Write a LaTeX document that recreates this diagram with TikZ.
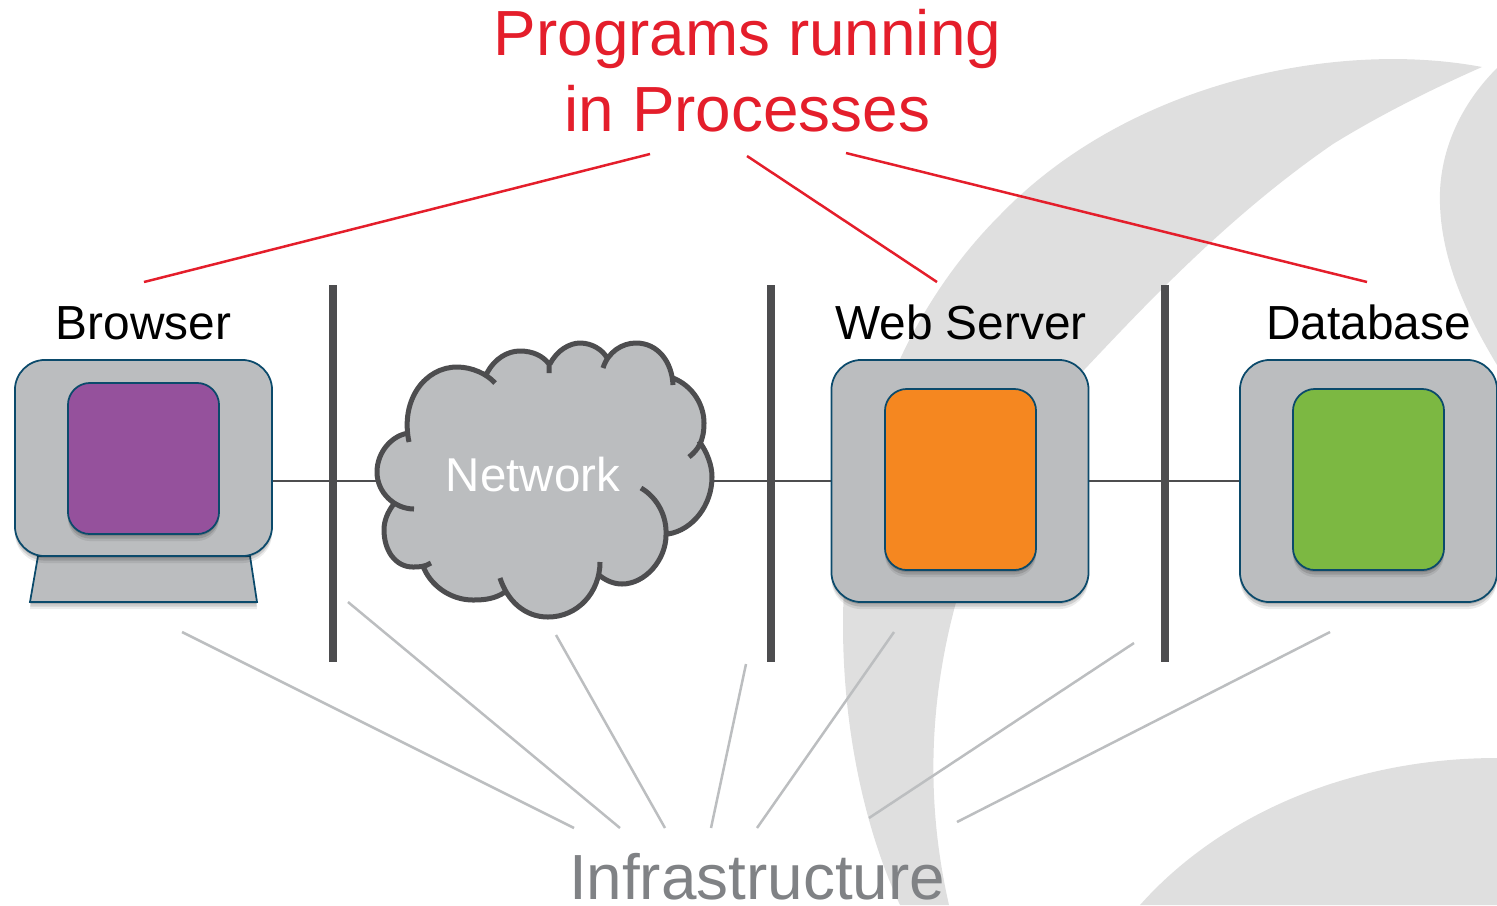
\documentclass[tikz,border=0pt]{standalone}
\usepackage{fontspec}
\setmainfont{Liberation Sans}
\usepackage{xcolor}
\usetikzlibrary{shadows,positioning,backgrounds}

\definecolor{swoosh}{HTML}{DFDFDF}
\definecolor{boxgrey}{HTML}{BBBDBF}
\definecolor{boxedge}{HTML}{0B4A6B}
\definecolor{walldark}{HTML}{4D4D4F}
\definecolor{titlered}{HTML}{E41E2B}
\definecolor{infragrey}{HTML}{808285}
\definecolor{infraline}{HTML}{BCBEC0}
\definecolor{browserfill}{HTML}{95519C}
\definecolor{serverfill}{HTML}{F58720}
\definecolor{dbfill}{HTML}{7CB842}

\begin{document}
\begin{tikzpicture}[
    x=0.01cm, y=-0.01cm,
    softshadow/.style={
        drop shadow={shadow xshift=0pt, shadow yshift=-0.02cm, opacity=0.14, fill=black},
        drop shadow={shadow xshift=0pt, shadow yshift=-0.045cm, opacity=0.12, fill=black},
        drop shadow={shadow xshift=0pt, shadow yshift=-0.07cm, opacity=0.08, fill=black}},
    tier/.style={rectangle, draw=boxedge, fill=boxgrey, line width=0.175mm, rounded corners=0.3cm, inner sep=0pt, minimum width=2.57cm, softshadow},
    proc/.style={rectangle, draw=boxedge, line width=0.175mm, rounded corners=0.22cm, inner sep=0pt, minimum width=1.51cm, softshadow},
    tierlabel/.style={font=\fontsize{13.6}{16}\selectfont, text=black, inner sep=0pt},
    wall/.style={rectangle, fill=walldark, inner sep=0pt, minimum width=0.08cm, minimum height=3.77cm},
    link/.style={draw=walldark, line width=0.025cm},
    redline/.style={draw=titlered, line width=0.025cm},
    infrastructureline/.style={draw=infraline, line width=0.025cm}
]
\useasboundingbox (0,0) rectangle (1497,905);

% background swooshes
\fill[swoosh] (1482,67) .. controls (1340,40) and (1130,80) .. (1000,215)
    .. controls (890,325) and (843,480) .. (843,625)
    .. controls (843,730) and (865,830) .. (900,905) -- (949,905)
    .. controls (925,800) and (930,700) .. (955,606)
    .. controls (985,500) and (1030,430) .. (1084,370)
    .. controls (1150,300) and (1230,215) .. (1333,144)
    .. controls (1380,115) and (1430,90) .. cycle;
\fill[swoosh] (1497,68) .. controls (1455,110) and (1438,160) .. (1440,205)
    .. controls (1442,265) and (1470,320) .. (1497,365) -- cycle;
\fill[swoosh] (1140,905) .. controls (1220,815) and (1350,758) .. (1497,758) -- (1497,905) -- cycle;

\node[minimum width=3.35cm, minimum height=2.7cm, inner sep=0pt] (net) at (544.5,481) {};

\node[wall] (wallA) at (333,473.5) {};
\node[wall] (wallB) at (771,473.5) {};
\node[wall] (wallC) at (1164.5,473.5) {};

% stand under the browser screen
\draw[draw=boxedge, fill=boxgrey, line width=0.175mm, softshadow] (38,556) -- (250,556) -- (257,602) -- (30,602) -- cycle;

\node[tier, minimum height=1.96cm] (browser) at (143.5,458) {};
\node[proc, minimum height=1.51cm, fill=browserfill] (browserproc) at (143.5,458.5) {};
\node[tier, minimum height=2.42cm] (server) at (960,481) {};
\node[proc, minimum height=1.81cm, fill=serverfill] (serverproc) at (960.5,479.5) {};
\node[tier, minimum height=2.42cm] (db) at (1368.5,481) {};
\node[proc, minimum height=1.81cm, fill=dbfill] (dbproc) at (1368.5,479.5) {};

\begin{scope}[on background layer]
\draw[link] (browser.east |- net.west) -- (net.west);
\draw[link] (net.east) -- (server.west);
\draw[link] (server.east) -- (db.west);
\end{scope}

% the cloud
\fill[boxgrey] (409,442) .. controls (400,400) and (425,367) .. (457,367) .. controls (472,367) and (487,374) .. (495,383)
    -- (487,373) .. controls (495,358) and (508,351) .. (520,351) .. controls (533,351) and (545,357) .. (550,364)
    .. controls (557,350) and (570,343) .. (580,343) .. controls (592,343) and (603,350) .. (607,358)
    -- (603,368) .. controls (608,352) and (622,343) .. (636,343) .. controls (658,343) and (672,362) .. (673,378)
    .. controls (693,386) and (704,405) .. (704,423) .. controls (704,430) and (702,436) .. (699,441)
    .. controls (707,452) and (712,465) .. (712,477) .. controls (712,505) and (693,530) .. (668,534)
    .. controls (666,560) and (645,584) .. (622,584) .. controls (613,584) and (605,580) .. (600,575)
    .. controls (592,600) and (578,617) .. (548,617) .. controls (530,617) and (515,607) .. (505,592)
    .. controls (495,599) and (484,600) .. (473,600) .. controls (450,600) and (430,585) .. (423,566)
    .. controls (418,567) and (415,567) .. (413,567) .. controls (395,567) and (384,550) .. (384,530)
    .. controls (384,520) and (388,512) .. (393,505)
    .. controls (382,497) and (377,485) .. (377,472) .. controls (377,452) and (392,435) .. (409,433) -- cycle;
\draw[draw=walldark, line width=0.05cm]
    (409,442) .. controls (400,400) and (425,367) .. (457,367) .. controls (472,367) and (487,374) .. (495,383)
    (487,373) .. controls (495,358) and (508,351) .. (520,351) .. controls (533,351) and (543,356) .. (549,364) -- (549,373)
    (550,364) .. controls (557,350) and (570,343) .. (580,343) .. controls (592,343) and (603,350) .. (607,358)
    (603,368) .. controls (608,352) and (622,343) .. (636,343) .. controls (658,343) and (672,362) .. (673,385)
    (673,378) .. controls (693,386) and (704,405) .. (704,423) .. controls (704,441) and (698,450) .. (689,457)
    (699,441) .. controls (707,452) and (712,465) .. (712,477) .. controls (712,505) and (693,530) .. (668,534)
    (641,488) .. controls (658,498) and (667,517) .. (666,535) .. controls (666,560) and (645,584) .. (622,584) .. controls (613,584) and (605,580) .. (599,575)
    (600,562) .. controls (600,592) and (578,617) .. (548,617) .. controls (524,617) and (507,600) .. (500,578)
    (505,592) .. controls (495,599) and (484,600) .. (473,600) .. controls (450,600) and (430,585) .. (423,566)
    (431,563) .. controls (425,567) and (418,567) .. (413,567) .. controls (395,567) and (384,550) .. (384,530) .. controls (384,520) and (388,512) .. (393,505)
    (414,509) .. controls (395,509) and (377,493) .. (377,472) .. controls (377,452) and (392,435) .. (409,433);
\node[font=\fontsize{13.5}{16}\selectfont, text=white, inner sep=0pt] (netlabel) at (533,475) {Network};

% labels
\node[tierlabel, above=0.18cm of browser] (browserlabel) {Browser};
\node[tierlabel, above=0.18cm of server, xshift=0.01cm] (serverlabel) {Web Server};
\node[tierlabel, above=0.18cm of db] (dblabel) {Database};
\node[font=\fontsize{18.15}{21.6}\selectfont, text=titlered, align=center, inner sep=0pt] (title) at (747.5,71) {Programs running\\in Processes};
\node[font=\fontsize{18.15}{21.6}\selectfont, text=infragrey, inner sep=0pt] (infra) at (757,877) {Infrastructure};

% free ends of the lines
\coordinate (ra) at (650,154); \coordinate (rb) at (144,282);
\coordinate (rc) at (747,156); \coordinate (rd) at (937,282);
\coordinate (re) at (846,153); \coordinate (rf) at (1367,282);
\foreach \from/\to in {ra/rb, rc/rd, re/rf}
    \draw[redline] (\from) -- (\to);

\coordinate (ga) at (182,632);  \coordinate (ha) at (574,828);
\coordinate (gb) at (348,602);  \coordinate (hb) at (620,828);
\coordinate (gc) at (556,635);  \coordinate (hc) at (665,828);
\coordinate (gd) at (746,664);  \coordinate (hd) at (711,828);
\coordinate (ge) at (894,632);  \coordinate (he) at (757,828);
\coordinate (gf) at (1134,643); \coordinate (hf) at (869,818);
\coordinate (gg) at (1330,632); \coordinate (hg) at (957,822);
\foreach \from/\to in {ga/ha, gb/hb, gc/hc, gd/hd, ge/he, gf/hf, gg/hg}
    \draw[infrastructureline] (\from) -- (\to);
\end{tikzpicture}
\end{document}
